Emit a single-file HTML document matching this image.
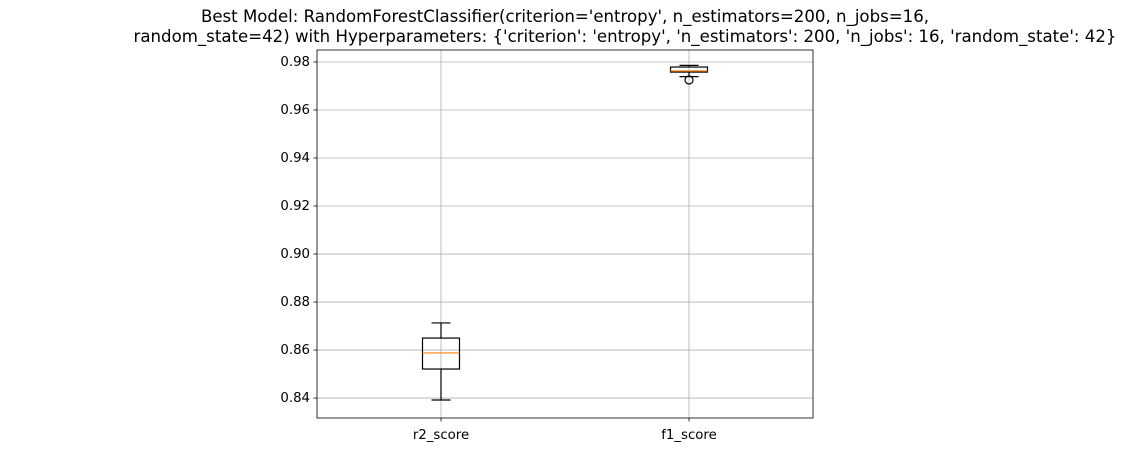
<!DOCTYPE html>
<html><head><meta charset="utf-8"><style>
body{margin:0;background:#fff;}
svg text{font-family:"DejaVu Sans","Liberation Sans",sans-serif;fill:#000;}
</style></head><body>
<svg width="1130" height="452">
<text x="565" y="22" font-size="16.6" text-anchor="middle">Best Model: RandomForestClassifier(criterion='entropy', n_estimators=200, n_jobs=16,</text>
<text x="625" y="42" font-size="16.6" text-anchor="middle">random_state=42) with Hyperparameters: {'criterion': 'entropy', 'n_estimators': 200, 'n_jobs': 16, 'random_state': 42}</text>
<g id="grid"></g><g id="marks"></g><g id="axes"></g>
</svg>
<script>
const categories=["r2_score","f1_score"];
const whiskLow=[0.8392,0.9739];
const q1=[0.8521,0.9758];
const medians=[0.8588,0.97625];
const q3=[0.865,0.9779];
const whiskHigh=[0.8713,0.9786];
const outliers=[[],[0.9725]];
const yTicks=[0.84,0.86,0.88,0.90,0.92,0.94,0.96,0.98];
const L=317,R=813,T=50,B=418,ymin=0.8317,ymax=0.985;
const ns="http://www.w3.org/2000/svg";
const y=v=>B-(v-ymin)/(ymax-ymin)*(B-T);
const x=i=>L+(i+1-0.5)/2*(R-L);
function mk(p,t,a){const e=document.createElementNS(ns,t);for(const k in a)e.setAttribute(k,a[k]);document.getElementById(p).appendChild(e);return e;}
yTicks.forEach(v=>{
 const g=mk('grid','line',{x1:L,x2:R,y1:y(v),y2:y(v),stroke:'#b0b0b0','stroke-width':0.8});
 
 
 mk('axes','line',{x1:L-3.5,x2:L,y1:y(v),y2:y(v),stroke:'#000','stroke-width':0.8});
 const t=mk('axes','text',{x:L-7,y:y(v)+4,'font-size':13.3,'text-anchor':'end'});t.textContent=v.toFixed(2);
 
 
});
categories.forEach((c,i)=>{
 const cx=x(i),hw=18.5,cw=9.5;
 const g=mk('grid','line',{x1:cx,x2:cx,y1:T,y2:B,stroke:'#b0b0b0','stroke-width':0.8});
 
 
 const s={stroke:'#000','stroke-width':1.2,fill:'none'};
 const b=mk('marks','rect',Object.assign({x:cx-hw,y:y(q3[i]),width:2*hw,height:y(q1[i])-y(q3[i])},s));
 
 
 mk('marks','line',Object.assign({x1:cx,x2:cx,y1:y(q3[i]),y2:y(whiskHigh[i])},s));
 mk('marks','line',Object.assign({x1:cx,x2:cx,y1:y(q1[i]),y2:y(whiskLow[i])},s));
 mk('marks','line',Object.assign({x1:cx-cw,x2:cx+cw,y1:y(whiskHigh[i]),y2:y(whiskHigh[i])},s));
 mk('marks','line',Object.assign({x1:cx-cw,x2:cx+cw,y1:y(whiskLow[i]),y2:y(whiskLow[i])},s));
 const m=mk('marks','line',{x1:cx-hw,x2:cx+hw,y1:y(medians[i]),y2:y(medians[i]),stroke:'#ff7f0e','stroke-width':1.2});
 
 
 outliers[i].forEach(o=>{const f=mk('marks','circle',Object.assign({cx:cx,cy:y(o),r:4},s));
  
  });
 mk('axes','line',{x1:cx,x2:cx,y1:B,y2:B+3.5,stroke:'#000','stroke-width':0.8});
 const t=mk('axes','text',{x:cx,y:B+21,'font-size':13.3,'text-anchor':'middle'});t.textContent=c;
 
 
});
const fr=mk('axes','rect',{x:L,y:T,width:R-L,height:B-T,fill:'none',stroke:'#000','stroke-width':0.8});


</script>
</body></html>
